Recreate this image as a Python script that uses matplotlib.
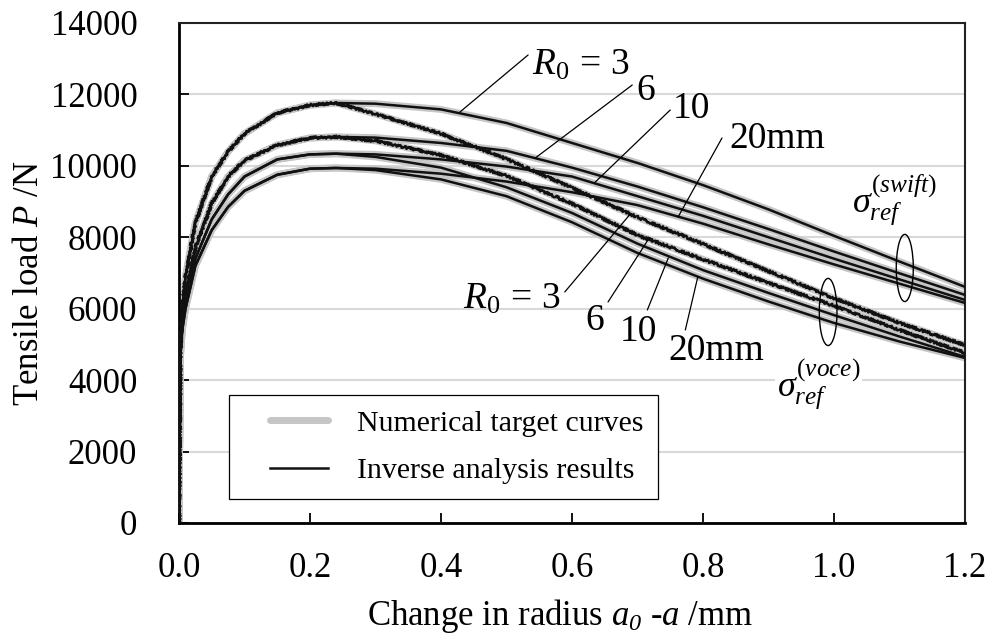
import matplotlib.pyplot as plt
from matplotlib.patches import Ellipse
from matplotlib.lines import Line2D
from matplotlib.legend_handler import HandlerLine2D

plt.rcParams['font.family'] = ['Liberation Serif', 'DejaVu Serif']
plt.rcParams['mathtext.fontset'] = 'custom'
plt.rcParams['mathtext.rm'] = 'Liberation Serif'
plt.rcParams['mathtext.it'] = 'Liberation Serif:italic'
plt.rcParams['mathtext.bf'] = 'Liberation Serif:bold'
plt.rcParams['mathtext.cal'] = 'Liberation Serif:italic'  # used for the italic subscript 0

# change in radius a0 - a [mm]; rising branch is shared by both hardening laws
x_rise = [0.0, 0.002, 0.005, 0.01, 0.025, 0.05, 0.075, 0.1, 0.15, 0.2]
x_fall = [0.24, 0.3, 0.4, 0.5, 0.6, 0.7, 0.8, 0.9, 1.0, 1.1, 1.2]

radii = ['3', '6', '10', '20']

# tensile load P [N]
rise_r3 = [0, 5000, 6000, 6900, 8400, 9700, 10400, 10900, 11480, 11700]
rise_r6 = [0, 4800, 5700, 6400, 7700, 8950, 9700, 10150, 10580, 10780]
rise_r10 = [0, 4700, 5500, 6200, 7400, 8500, 9200, 9700, 10180, 10320]
rise_r20 = [0, 4600, 5400, 6000, 7200, 8200, 8850, 9300, 9750, 9920]

swift_r3 = [11760, 11740, 11580, 11200, 10640, 10080, 9460, 8780, 8040, 7320, 6610]
swift_r6 = [10810, 10790, 10640, 10420, 9950, 9420, 8840, 8230, 7600, 6990, 6384]
swift_r10 = [10340, 10320, 10180, 9980, 9700, 9150, 8600, 8000, 7400, 6820, 6244]
swift_r20 = [9940, 9920, 9780, 9560, 9260, 8900, 8380, 7800, 7240, 6700, 6160]

voce_r3 = [11760, 11450, 10900, 10190, 9385, 8560, 7810, 7050, 6290, 5600, 4980]
voce_r6 = [10810, 10700, 10300, 9720, 8940, 8060, 7380, 6720, 6080, 5400, 4760]
voce_r10 = [10340, 10250, 9950, 9400, 8680, 7820, 7080, 6440, 5820, 5220, 4650]
voce_r20 = [9940, 9880, 9620, 9150, 8420, 7560, 6840, 6200, 5600, 5080, 4620]

rises = [rise_r3, rise_r6, rise_r10, rise_r20]
swifts = [swift_r3, swift_r6, swift_r10, swift_r20]
voces = [voce_r3, voce_r6, voce_r10, voce_r20]

GREY = '#c6c6c6'
INK = '#111111'

fig = plt.figure(figsize=(9.91, 6.38), dpi=100)
ax = fig.add_axes([0.1806, 0.1803, 0.7932, 0.7837])

xs = x_rise + x_fall
curves = []
for i in range(4):
    curves.append((rises[i] + swifts[i], False))
    curves.append((rises[i] + voces[i], i < 2))

# target curves (thick grey) under the identified ones (thin black)
for ys, wavy in curves:
    ax.plot(xs, ys, color=GREY, lw=5.0, solid_capstyle='butt', zorder=2)
for ys, wavy in curves:
    ln, = ax.plot(xs, ys, color=INK, lw=1.8, zorder=3)
    if wavy:
        ln.set_sketch_params(1.3, 2.5, 2.0)

ax.set_xlim(0, 1.2)
ax.set_ylim(0, 14000)
ax.set_xticks([0.0, 0.2, 0.4, 0.6, 0.8, 1.0, 1.2])
ax.set_xticklabels(['0.0', '0.2', '0.4', '0.6', '0.8', '1.0', '1.2'])
ax.set_yticks(range(0, 14001, 2000))
ax.yaxis.grid(True, color='#d9d9d9', lw=1.5)
ax.set_axisbelow(True)

ax.tick_params(axis='both', direction='in', length=7, width=1.3, labelsize=25,
               top=False, right=False)
ax.tick_params(axis='x', pad=21)
ax.tick_params(axis='y', pad=30)
for s in ['left', 'bottom']:
    ax.spines[s].set_linewidth(2.0)
    ax.spines[s].set_color('black')
for s in ['top', 'right']:
    ax.spines[s].set_linewidth(1.5)
    ax.spines[s].set_color('#222222')

ax.set_xlabel(r'Change in radius $a_{\mathcal{0}}$ -$a$ /mm', fontsize=25)
ax.set_ylabel(r'Tensile load $P$ /N', fontsize=25)
ax.xaxis.set_label_coords(0.485, -0.148)
ax.yaxis.set_label_coords(-0.169, 0.48)

# labels for the Swift group
lead = dict(arrowstyle='-', lw=0.9, color='black', shrinkA=0, shrinkB=0)
ax.annotate('', xy=(0.429, 11508), xytext=(0.533, 13104), arrowprops=lead)
ax.annotate('', xy=(0.544, 10220), xytext=(0.692, 12264), arrowprops=lead)
ax.annotate('', xy=(0.634, 9520), xytext=(0.750, 11564), arrowprops=lead)
ax.annotate('', xy=(0.762, 8568), xytext=(0.829, 10780), arrowprops=lead)
ax.text(0.614, 12824, r'$R_0\,=\,3$', fontsize=27, ha='center', va='center')
ax.text(0.713, 12100, '6', fontsize=27, ha='center', va='center')
ax.text(0.783, 11600, '10', fontsize=27, ha='center', va='center')
ax.text(0.913, 10760, '20mm', fontsize=27, ha='center', va='center')

# labels for the Voce group
ax.annotate('', xy=(0.689, 8652), xytext=(0.589, 6468), arrowprops=lead)
ax.annotate('', xy=(0.716, 7924), xytext=(0.655, 6188), arrowprops=lead)
ax.annotate('', xy=(0.747, 7420), xytext=(0.715, 5964), arrowprops=lead)
ax.annotate('', xy=(0.792, 6888), xytext=(0.773, 5404), arrowprops=lead)
ax.text(0.508, 6270, r'$R_0\,=\,3$', fontsize=27, ha='center', va='center')
ax.text(0.635, 5660, '6', fontsize=27, ha='center', va='center')
ax.text(0.701, 5350, '10', fontsize=27, ha='center', va='center')
ax.text(0.821, 4820, '20mm', fontsize=27, ha='center', va='center')

ax.add_patch(Ellipse((1.108, 7140), 0.026, 1880, fill=False, lw=1.0, ec='black', zorder=4))
ax.add_patch(Ellipse((0.991, 5908), 0.027, 1880, fill=False, lw=1.0, ec='black', zorder=4))
white = dict(facecolor='white', edgecolor='none', pad=1)
ax.text(1.093, 9044, r'$\sigma_{ref}^{(swift)}$', fontsize=26, ha='center', va='center', bbox=white)
ax.text(0.976, 3892, r'$\sigma_{ref}^{(voce)}$', fontsize=26, ha='center', va='center', bbox=white)

handles = [Line2D([], [], color=GREY, lw=5.0, solid_capstyle='round'),
           Line2D([], [], color=INK, lw=1.8)]
pad_handle = {h: HandlerLine2D(xpad=0.87) for h in handles}
leg = ax.legend(handles, ['Numerical target curves', 'Inverse analysis results'],
                loc='lower left', bbox_to_anchor=(0.0636, 0.048), fontsize=21.5,
                frameon=True, fancybox=False, framealpha=1, edgecolor='black',
                handlelength=2.81, handletextpad=0.97, borderpad=0.5, labelspacing=0.68,
                borderaxespad=0, handler_map=pad_handle)
leg.get_frame().set_linewidth(0.9)

fig.savefig('out.png', dpi=100)
